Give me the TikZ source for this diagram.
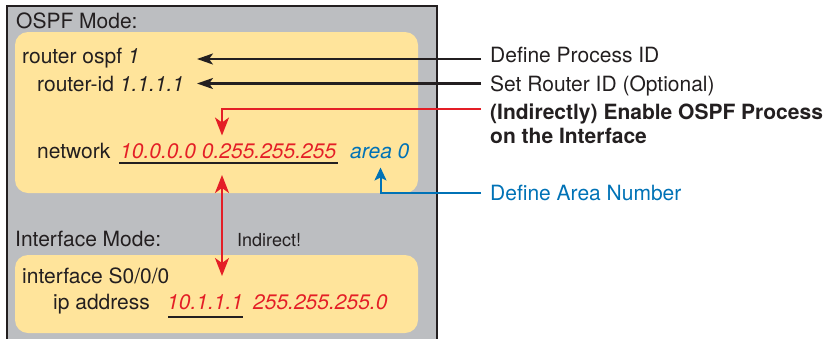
\documentclass[tikz,border=0pt]{standalone}
\usepackage{fontspec}
\setmainfont{TeX Gyre Heros}
\usetikzlibrary{arrows.meta,calc}

\definecolor{boxgray}{RGB}{188,190,193}
\definecolor{cfgyellow}{RGB}{255,228,155}
\definecolor{ink}{RGB}{35,31,32}
\definecolor{cred}{RGB}{228,30,38}
\definecolor{cblue}{RGB}{0,114,182}

\begin{document}
\begin{tikzpicture}[x=1pt,y=-1pt,
  txt/.style={anchor=base west,inner sep=0pt,text=ink,font=\fontsize{21}{25}\selectfont},
  smalltxt/.style={txt,font=\fontsize{18}{22}\selectfont},
  boldtxt/.style={txt,font=\fontsize{21}{25}\selectfont\bfseries},
  redval/.style={txt,text=cred,font=\fontsize{21}{25}\selectfont\itshape},
  blueval/.style={txt,text=cblue,font=\fontsize{21}{25}\selectfont\itshape},
  panel/.style={fill=cfgyellow,rounded corners=13pt},
  blackarrow/.style={ink,line width=2.2pt,-{Stealth[length=16pt,width=11pt,inset=4pt]}},
  redarrow/.style={cred,line width=2pt,-{Stealth[length=18pt,width=14pt,inset=5pt]}},
  redboth/.style={cred,line width=2pt,{Stealth[length=18pt,width=14pt,inset=5pt]}-{Stealth[length=18pt,width=14pt,inset=5pt]}},
  bluearrow/.style={cblue,line width=2pt,-{Stealth[length=13pt,width=12pt,inset=3pt]}},
  uline/.style={ink,line width=2pt}
]
\useasboundingbox (0,0) rectangle (829,338);

% outer mode frame (open at the bottom)
\fill[boxgray] (7,6) rectangle (437,345);
\draw[ink,line width=2.5pt] (7,345) -- (7,6) -- (437,6) -- (437,345);

% configuration panels
\fill[panel] (15,32) rectangle (418,193);
\fill[panel] (15,255) rectangle (418,333);

% OSPF mode commands
\node[txt] (ospfmode) at (16,28) {OSPF Mode:};
\node[txt] (rospf) at (22,63) {router ospf \textit{1}};
\node[txt] (rid) at (37,91.5) {router-id \textit{1.1.1.1}};
\node[txt] (netkw) at (37,158) {network};
\node[redval] (netaddr) at (120,158) {10.0.0.0 0.255.255.255};
\node[blueval] (area) at (350,158) {area 0};

% interface mode commands
\node[txt] (ifmode) at (15,246.5) {Interface Mode:};
\node[smalltxt] (indirect) at (237,246.5) {Indirect!};
\node[txt] (ifcmd) at (22,283) {interface S0/0/0};
\node[txt] (ipkw) at (53,309) {ip address};
\node[redval] (ipaddr) at (167,309) {10.1.1.1};
\node[redval] (ipmask) at (253,309) {255.255.255.0};

% underlines
\draw[uline] ($(netaddr.base west)+(-1,5)$) -- ($(netaddr.base east)+(2,5)$);
\draw[uline] ($(ipaddr.base west)+(1,8)$) -- ($(ipaddr.base east)+(0,8)$);

% explanation labels
\node[txt] (lpid) at (490,62.7) {Define Process ID};
\node[txt] (lrid) at (490,91.5) {Set Router ID (Optional)};
\node[boldtxt] (lnet1) at (490,119) {(Indirectly) Enable OSPF Process};
\node[boldtxt] (lnet2) at (490,143.3) {on the Interface};
\node[txt,text=cblue] (larea) at (490,200) {Define Area Number};

% arrow tips
\coordinate (pidtip) at (197,59);
\coordinate (ridtip) at (197,83.5);
\coordinate (nettip) at (222,135.5);
\coordinate (areatip) at (380.5,167.5);
\coordinate (linkup) at (222,175);
\coordinate (linkdown) at (222,276);

% connectors
\draw[blackarrow] ($(lpid.base west)+(-9,-3.7)$) -- (pidtip);
\draw[blackarrow] ($(lrid.base west)+(-9,-8)$) -- (ridtip);
\draw[redarrow] ($(lnet1.base west)+(-9,-10)$) -| (nettip);
\draw[bluearrow] ($(larea.base west)+(-9,-6.8)$) -| (areatip);
\draw[redboth] (linkup) -- (linkdown);
\end{tikzpicture}
\end{document}
